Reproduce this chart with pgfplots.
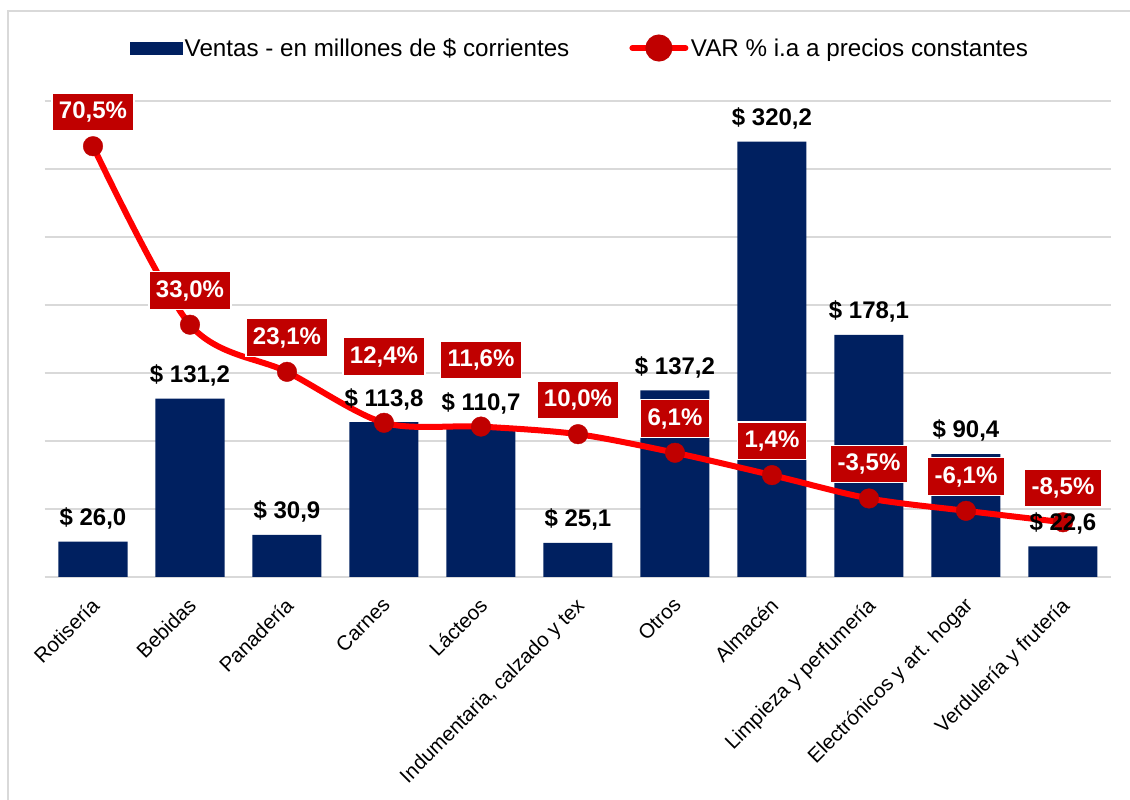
\documentclass[border=0pt]{standalone}
\usepackage{fontspec}
\setmainfont{Liberation Sans}
\usepackage{pgfplots}
\pgfplotsset{compat=1.18}
\usepackage{pgfplotstable}
\definecolor{navy}{HTML}{002060}
\definecolor{lred}{HTML}{FF0000}
\definecolor{dred}{HTML}{C00000}
\definecolor{gridc}{HTML}{D9D9D9}

\pgfplotstableread{
x ventas var
0 26.0 70.5
1 131.2 33.0
2 30.9 23.1
3 113.8 12.4
4 110.7 11.6
5 25.1 10.0
6 137.2 6.1
7 320.2 1.4
8 178.1 -3.5
9 90.4 -6.1
10 22.6 -8.5
}\datatable

\pgfplotsset{
  base/.style={at={(44.5pt,223pt)}, anchor=south west, scale only axis,
    width=1067pt, height=476pt, xmin=-0.5, xmax=10.5, clip=false},
}

\begin{document}
\begin{tikzpicture}
\path[use as bounding box] (0pt,0pt) rectangle (1130pt,800pt);
\draw[gridc, line width=1.5pt] (8pt,0pt) -- (8pt,789pt) -- (1130pt,789pt);

% bars + grid + category labels
\begin{axis}[base, ymin=0, ymax=350, ytick={0,50,...,350}, yticklabels={},
  ymajorgrids, grid style={draw=gridc, line width=1.3pt},
  axis line style={draw=none}, major tick length=0pt,
  xtick={0,...,10},
  xticklabels={Rotisería, Bebidas, Panadería, Carnes, Lácteos, {Indumentaria, calzado y tex}, Otros, Almacén, Limpieza y perfumería, Electrónicos y art. hogar, Verdulería y frutería},
  x tick label style={font=\fontsize{20.5}{24}\selectfont, text=black, xshift=-3pt, yshift=-19pt, rotate=45, anchor=north east, inner sep=0pt},
  ybar, bar width=69pt]
\addplot[fill=navy, draw=none] table[x=x, y=ventas]{\datatable};
\end{axis}

% line on secondary scale
\begin{axis}[base, ymin=-20, ymax=80, hide axis,
  legend style={draw=none, fill=none, inner sep=0pt, at={(0.5009,1.1113)}, anchor=center,
    column sep=2.5pt, font=\fontsize{24.2}{28}\selectfont, nodes={inner sep=0pt},
    /tikz/every even column/.append style={column sep=60pt}},
  legend columns=2]
\addlegendimage{legend image code/.code={\fill[navy] (0pt,-6.2pt) rectangle (52pt,6.2pt);}}
\addlegendentry{Ventas - en millones de \$ corrientes}
\addplot[lred, line width=6pt, smooth, mark=*, mark size=9.8pt,
  mark options={fill=dred, draw=dred, line width=0.4pt},
  legend image code/.code={\draw[lred, line width=6pt, line cap=round] (3pt,0pt) -- (56pt,0pt); \fill[dred] (29.5pt,0pt) circle (10.5pt);},
  nodes near coords={\pgfmathprintnumber[fixed, fixed zerofill, precision=1, use comma, assume math mode=true]{\pgfplotspointmeta}\%},
  every node near coord/.append style={fill=dred, draw=white, line width=1.2pt, text=white,
    font=\bfseries\fontsize{24}{28}\selectfont, anchor=south, yshift=15pt,
    inner xsep=7pt, inner ysep=8pt, text height=17.5pt, text depth=4pt},
  coordinate style/.condition={x>2.5 && x<4.5}{yshift=32pt}]
  table[x=x, y=var]{\datatable};
\addlegendentry{VAR \% i.a a precios constantes}
\end{axis}

% bar value labels on top
\begin{axis}[base, ymin=0, ymax=350, hide axis, ybar, bar width=69pt]
\addplot[draw=none, fill=none,
  nodes near coords={\$ \pgfmathprintnumber[fixed, fixed zerofill, precision=1, use comma, assume math mode=true]{\pgfplotspointmeta}},
  every node near coord/.append style={text=black, font=\bfseries\fontsize{24}{28}\selectfont,
    anchor=south, inner sep=0pt, text depth=0pt, yshift=16pt}]
  table[x=x, y=ventas]{\datatable};
\end{axis}
\end{tikzpicture}
\end{document}
